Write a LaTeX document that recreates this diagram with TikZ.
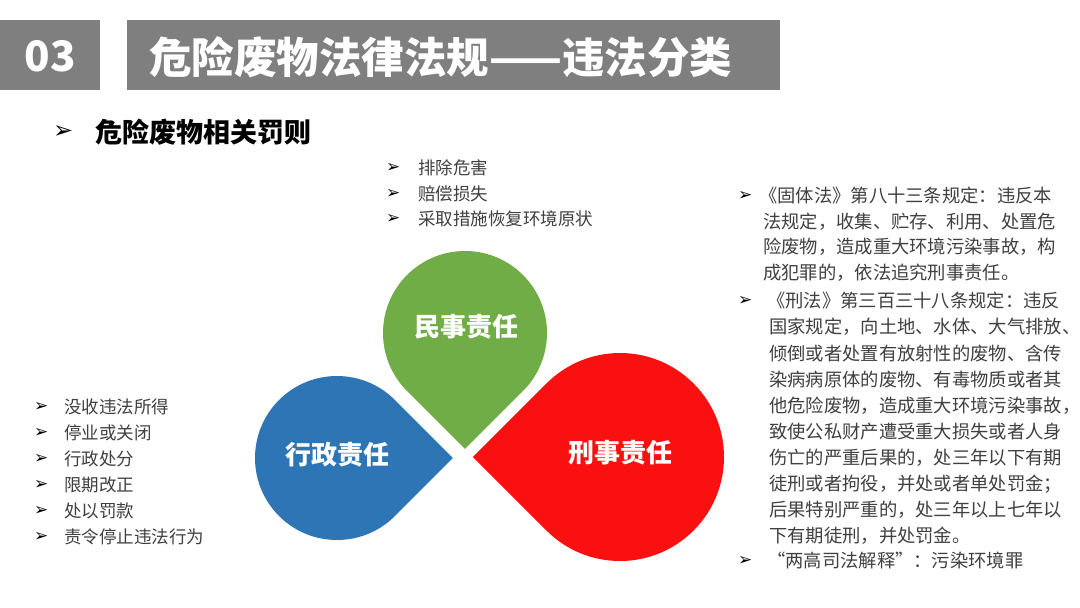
\documentclass[tikz,border=0pt]{standalone}
\usepackage{fontspec}
\setmainfont{Noto Sans CJK SC}
\newfontfamily\dingfont{DejaVu Sans}
\usetikzlibrary{calc}
\definecolor{bargray}{HTML}{7F7F7F}
\definecolor{listgray}{HTML}{404040}
\definecolor{civilgreen}{HTML}{70AD47}
\definecolor{adminblue}{HTML}{2E75B6}
\definecolor{crimred}{HTML}{FA1010}
\newcommand{\arrowmark}{{\dingfont ➢}}
\newcommand{\drop}[4]{\fill[#1] ($(#2)+(#3:{1.4142*#4})$) -- ($(#2)+({#3+45}:#4)$) arc[start angle={#3+45}, delta angle=270, radius=#4] -- cycle;}

\begin{document}
\begin{tikzpicture}[x=1pt, y=-1pt,
    item/.style={anchor=west, inner sep=0pt, text=listgray, font=\fontsize{17.5}{20}\selectfont},
    law/.style={item, font=\fontsize{18.3}{20}\selectfont},
    pointer/.style={anchor=west, inner sep=0pt, text=black, font=\fontsize{17}{18}\selectfont},
    droplabel/.style={text=white, inner sep=0pt, font=\fontsize{26}{30}\selectfont\bfseries}]
  \useasboundingbox (0,0) rectangle (1080,608);
  \fill[white] (0,0) rectangle (1080,608);

  \fill[bargray] (0,20) rectangle (100,90);
  \fill[bargray] (127,20) rectangle (780,90);
  \node[text=white, font=\fontsize{42}{44}\selectfont\bfseries] (num) at (50,56) {03};
  \node[anchor=west, inner sep=0pt, text=white, font=\fontsize{42.5}{46}\selectfont\bfseries] (title) at (149,57) {危险废物法律法规——违法分类};

  \node[pointer, font=\fontsize{24}{26}\selectfont] (subarrow) at (53,132) {\arrowmark};
  \node[anchor=west, inner sep=0pt, font=\fontsize{27}{30}\selectfont\bfseries] (sub) at (95,132) {危险废物相关罚则};

  \coordinate (gc) at (465,333);
  \coordinate (bc) at (337,458);
  \coordinate (rc) at (620,457);
  \drop{civilgreen}{gc}{90}{82}
  \drop{adminblue}{bc}{0}{82}
  \drop{crimred}{rc}{180}{104}
  \node[droplabel] (civil) at (466,327) {民事责任};
  \node[droplabel] (admin) at (337,455) {行政责任};
  \node[droplabel] (crim) at (620,453) {刑事责任};

  \foreach \t [count=\i from 0] in {排除危害, 赔偿损失, 采取措施恢复环境原状} {
    \node[pointer] (ca\i) at (386, 168+25.5*\i) {\arrowmark};
    \node[item] (c\i) at (418, 168+25.5*\i) {\t};
  }

  \foreach \t [count=\i from 0] in {没收违法所得, 停业或关闭, 行政处分, 限期改正, 处以罚款, 责令停止违法行为} {
    \node[pointer] (aa\i) at (34, 407+26*\i) {\arrowmark};
    \node[item] (a\i) at (64, 407+26*\i) {\t};
  }

  \node[pointer] (la0) at (738,196) {\arrowmark};
  \node[law] (l0) at (759,196) {《固体法》第八十三条规定：违反本};
  \foreach \t [count=\i] in {法规定，收集、贮存、利用、处置危, 险废物，造成重大环境污染事故，构, 成犯罪的，依法追究刑事责任。} {
    \node[law] (l\i) at (763, 196+25.5*\i) {\t};
  }

  \node[pointer] (ma0) at (738,301) {\arrowmark};
  \node[law] (m0) at (767,301) {《刑法》第三百三十八条规定：违反};
  \foreach \t [count=\i] in {国家规定，向土地、水体、大气排放、, 倾倒或者处置有放射性的废物、含传, 染病病原体的废物、有毒物质或者其, 他危险废物，造成重大环境污染事故，, 致使公私财产遭受重大损失或者人身, 伤亡的严重后果的，处三年以下有期, 徒刑或者拘役，并处或者单处罚金；, 后果特别严重的，处三年以上七年以, 下有期徒刑，并处罚金。} {
    \node[law] (m\i) at (769, 301+26.1*\i) {\t};
  }

  \node[pointer] (na0) at (738,561) {\arrowmark};
  \node[law] (n0) at (767,561) {“两高司法解释”：污染环境罪};
\end{tikzpicture}
\end{document}
